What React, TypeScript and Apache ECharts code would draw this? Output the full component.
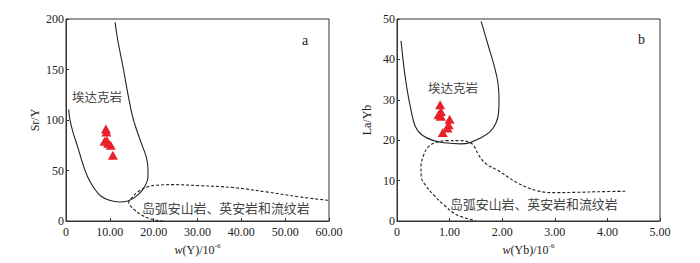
import React, { useEffect, useRef } from "react";
import * as echarts from "echarts";

// Panel a: Sr/Y vs Y
const adakiteA: [number, number][] = [
  [0.61, 110.4], [0.91, 99.8], [1.68, 86.6], [2.67, 73.4], [3.81, 56.9], [4.95, 43.6],
  [6.48, 32.1], [8.0, 24.5], [9.91, 20.5], [12.2, 18.8], [14.1, 19.8], [15.6, 23.1],
  [17.1, 28.8], [18.1, 35.4], [18.7, 43.6], [18.7, 51.9], [18.3, 63.5], [17.5, 73.4],
  [16.4, 86.6], [15.2, 103.1], [14.1, 126.3], [13.0, 152.7], [11.8, 179.2], [11.2, 196.7],
];
const arcA: [number, number][] = [
  [59.8, 20.5], [53.4, 23.8], [45.7, 28.8], [38.1, 33.1], [30.5, 35.0], [24.4, 36.0],
  [20.6, 35.4], [18.8, 34.2], [16.4, 28.8], [14.9, 22.1], [14.3, 18.2], [14.6, 15.5],
  [15.6, 11.2], [17.1, 6.3], [19.1, 2.3], [22.1, 0],
];
const samplesA: [number, number][] = [
  [9.1, 91], [9.2, 88], [8.8, 79], [9.3, 80], [9.6, 77], [10.2, 75], [10.7, 65],
];

// Panel b: La/Yb vs Yb
const adakiteB: [number, number][] = [
  [0.076, 44.6], [0.108, 40.7], [0.146, 36.6], [0.203, 31.7], [0.266, 27.5], [0.348, 23.4],
  [0.475, 21.3], [0.696, 19.9], [0.949, 19.3], [1.2, 19.1], [1.39, 19.4], [1.58, 20.5],
  [1.77, 22.1], [1.88, 24.2], [1.93, 26.7], [1.94, 30.0], [1.92, 34.1], [1.85, 38.3],
  [1.74, 43.2], [1.6, 49.4],
];
const arcB: [number, number][] = [
  [4.34, 7.36], [3.92, 7.27], [3.42, 7.1], [3.04, 7.02], [2.66, 7.5], [2.28, 9.5],
  [1.96, 12.2], [1.68, 14.3], [1.55, 16.4], [1.47, 18.4], [1.39, 19.4], [1.2, 19.9],
  [0.95, 19.9], [0.73, 19.4], [0.6, 18.4], [0.51, 16.4], [0.456, 13.5], [0.46, 11.0],
  [0.54, 8.9], [0.7, 6.4], [0.89, 4.0], [1.14, 1.5], [1.49, 0.1],
];
const samplesB: [number, number][] = [
  [0.82, 28.8], [0.835, 27.1], [0.79, 26.3], [0.835, 25.9], [1.0, 25.2], [0.98, 23.8],
  [0.96, 23.0], [0.87, 21.9],
];

const panelLetters = ["a", "b"];
const adakiteLabel = "埃达克岩";
const arcLabel = "岛弧安山岩、英安岩和流纹岩";
const yNames = ["Sr/Y", "La/Yb"];
const xElements = ["Y", "Yb"];

const AX = "#333";
const SERIF = "'Liberation Serif', 'Times New Roman', serif";
const CJK = "'Noto Sans CJK SC', sans-serif";

function fmt(v: number) {
  return v === 0 ? "0" : v.toFixed(2);
}

function xAxisFor(idx: number, max: number, interval: number, el: string) {
  return {
    type: "value",
    gridIndex: idx,
    min: 0,
    max,
    interval,
    name: `{i|w}({n|${el}})/10{s|-6}`,
    nameLocation: "middle",
    nameGap: 20,
    nameTextStyle: {
      color: "#222",
      fontFamily: SERIF,
      fontSize: 12,
      rich: {
        i: { fontStyle: "italic", fontFamily: SERIF, fontSize: 12, color: "#222" },
        n: { fontFamily: SERIF, fontSize: 12, color: "#222" },
        s: { fontFamily: SERIF, fontSize: 7, color: "#222", padding: [0, 0, 8, 0] },
      },
    },
    axisLine: { show: true, lineStyle: { color: AX, width: 1 } },
    axisTick: { show: true, inside: true, length: 3, lineStyle: { color: AX } },
    axisLabel: { color: "#222", fontFamily: SERIF, fontSize: 12, margin: 5, formatter: fmt },
    splitLine: { show: false },
  };
}

function yAxisFor(idx: number, max: number, interval: number, name: string, gap: number) {
  return {
    type: "value",
    gridIndex: idx,
    min: 0,
    max,
    interval,
    name,
    nameLocation: "middle",
    nameGap: gap,
    nameTextStyle: { color: "#222", fontFamily: SERIF, fontSize: 12 },
    axisLine: { show: true, lineStyle: { color: AX, width: 1 } },
    axisTick: { show: true, inside: true, length: 3, lineStyle: { color: AX } },
    axisLabel: { color: "#222", fontFamily: SERIF, fontSize: 12, margin: 2 },
    splitLine: { show: false },
  };
}

function curves(idx: number, solid: [number, number][], dashed: [number, number][], pts: [number, number][]) {
  return [
    {
      type: "line",
      xAxisIndex: idx,
      yAxisIndex: idx,
      data: solid,
      smooth: 0.4,
      showSymbol: false,
      lineStyle: { color: "#222", width: 1.1 },
      silent: true,
    },
    {
      type: "line",
      xAxisIndex: idx,
      yAxisIndex: idx,
      data: dashed,
      smooth: 0.4,
      showSymbol: false,
      lineStyle: { color: "#222", width: 1.1, type: [3, 2] },
      silent: true,
    },
    {
      type: "scatter",
      xAxisIndex: idx,
      yAxisIndex: idx,
      data: pts,
      symbol: "triangle",
      symbolSize: [10, 9],
      itemStyle: { color: "#e8202a", opacity: 1 },
    },
  ];
}

export default function App() {
  const ref = useRef<HTMLDivElement>(null);
  useEffect(() => {
    if (!ref.current) return;
    const chart = echarts.init(ref.current, undefined, { renderer: "svg" });
    const txt = (x: number, y: number, text: string, font: string, size: number, color = "#444") => ({
      type: "text",
      x,
      y,
      style: { text, font: `${size}px ${font}`, fill: color, textVerticalAlign: "middle" },
    });
    chart.setOption({
      animation: false,
      backgroundColor: "#fff",
      grid: [
        { left: 66, top: 19, width: 263, height: 202, show: true, borderColor: AX, borderWidth: 1 },
        { left: 397, top: 19, width: 263, height: 202, show: true, borderColor: AX, borderWidth: 1 },
      ],
      xAxis: [xAxisFor(0, 60, 10, xElements[0]), xAxisFor(1, 5, 1, xElements[1])],
      yAxis: [yAxisFor(0, 200, 50, yNames[0], 25), yAxisFor(1, 50, 10, yNames[1], 24)],
      series: [...curves(0, adakiteA, arcA, samplesA), ...curves(1, adakiteB, arcB, samplesB)],
      graphic: [
        txt(302, 40, panelLetters[0], SERIF, 14, "#222"),
        txt(638, 39, panelLetters[1], SERIF, 14, "#222"),
        txt(72, 96, adakiteLabel, CJK, 12.5),
        txt(428, 87, adakiteLabel, CJK, 12.5),
        txt(142, 207, arcLabel, CJK, 12.9),
        txt(450, 203, arcLabel, CJK, 12.9),
      ],
    });
    return () => chart.dispose();
  }, []);
  return (
    <div
      ref={ref}
      style={{ position: "fixed", left: 0, top: 0, width: 700, height: 263, background: "#fff" }}
    />
  );
}
